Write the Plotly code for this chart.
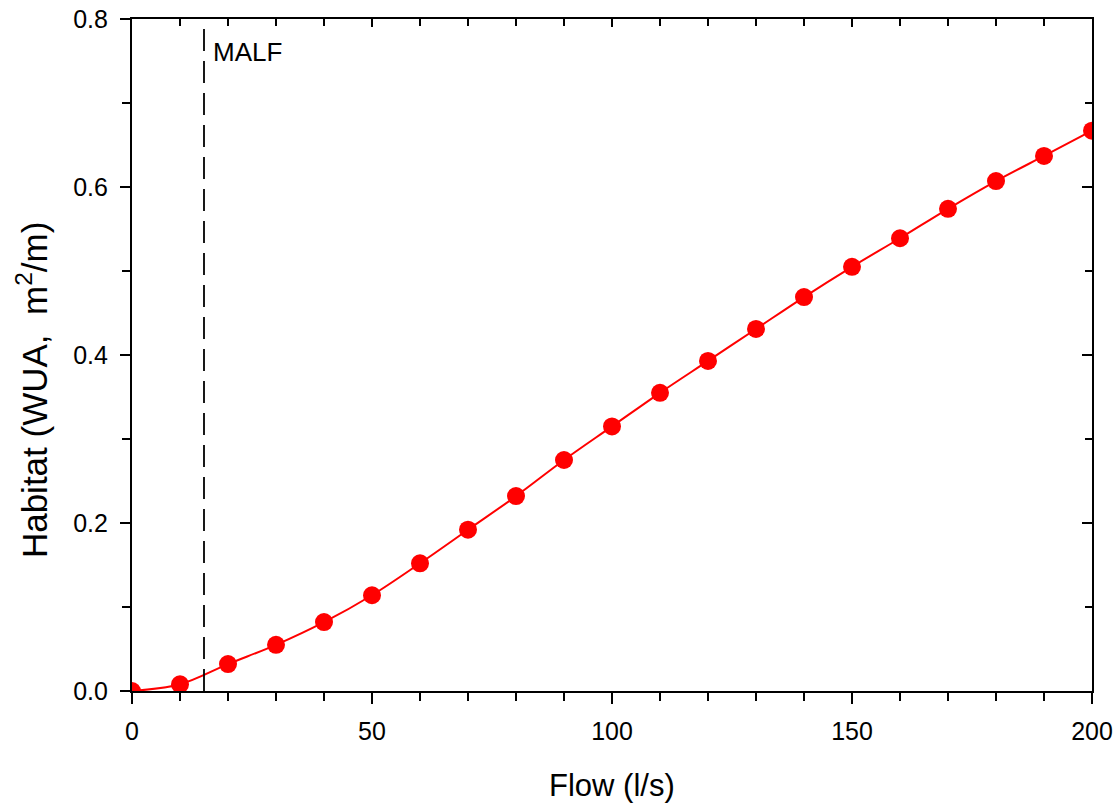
import plotly.graph_objects as go

flow = [0, 10, 20, 30, 40, 50, 60, 70, 80, 90, 100, 110, 120, 130, 140, 150, 160, 170, 180, 190, 200]
habitat = [0.000, 0.008, 0.032, 0.055, 0.082, 0.114, 0.152, 0.192, 0.232, 0.275, 0.315,
           0.355, 0.393, 0.431, 0.469, 0.505, 0.539, 0.574, 0.607, 0.637, 0.667]
malf = 15
malf_label = "MALF"
x_title = "Flow (l/s)"
y_title = "Habitat (WUA,&nbsp; m<sup>2</sup>/m)"
x_ticks = [0, 50, 100, 150, 200]
y_ticks = [0, 0.2, 0.4, 0.6, 0.8]
y_ticktext = ["0.0", "0.2", "0.4", "0.6", "0.8"]

font = "Arial, Liberation Sans, sans-serif"
fig = go.Figure()
fig.add_trace(go.Scatter(x=flow, y=habitat, mode="lines", line=dict(color="#ff0000", width=2, shape="spline"),
                         showlegend=False, hoverinfo="skip"))
fig.add_trace(go.Scatter(x=flow, y=habitat, mode="markers", marker=dict(color="#ff0000", size=18),
                         showlegend=False))
fig.add_trace(go.Scatter(x=[malf, malf], y=[0, 0.8], mode="lines",
                         line=dict(color="black", width=1.8, dash="22px,10px"), showlegend=False, hoverinfo="skip"))
fig.add_annotation(x=malf, y=0.8, xref="x", yref="y", text=malf_label, showarrow=False,
                   xanchor="left", yanchor="top", xshift=7, yshift=-16, font=dict(family=font, size=26, color="black"))

fig.add_annotation(x=0.5, y=-0.141, xref="paper", yref="paper", text=x_title, showarrow=False,
                   xanchor="center", yanchor="middle", font=dict(family=font, size=31, color="black"))
fig.add_annotation(x=-0.104, y=0.448, xref="paper", yref="paper", text=y_title, showarrow=False, textangle=-90,
                   xanchor="center", yanchor="middle", font=dict(family=font, size=35, color="black"))

fig.add_trace(go.Scatter(x=[0, 200], y=[0, 0.8], xaxis="x2", yaxis="y2", mode="markers",
                         marker=dict(opacity=0), showlegend=False, hoverinfo="skip"))

fig.update_layout(
    width=1119, height=805,
    margin=dict(l=132, r=27, t=19, b=114, autoexpand=False),
    plot_bgcolor="white", paper_bgcolor="white",
    font=dict(family=font, color="black"),
    xaxis=dict(range=[0, 200], tickvals=x_ticks, ticks="outside", ticklen=11, tickwidth=1.8, automargin=False,
               tickcolor="black", showline=True, linecolor="black", linewidth=2.2, showgrid=False, zeroline=False,
               tickfont=dict(size=25), ticklabelstandoff=6,
               minor=dict(dtick=10, ticks="outside", ticklen=8, tickwidth=1.8, tickcolor="black", showgrid=False)),
    yaxis=dict(range=[0, 0.8], tickvals=y_ticks, ticktext=y_ticktext, automargin=False,
               ticks="outside", ticklen=10, tickwidth=1.8, tickcolor="black", showline=True, linecolor="black",
               linewidth=2.2, showgrid=False, zeroline=False, tickfont=dict(size=25), ticklabelstandoff=7,
               minor=dict(dtick=0.1, ticks="outside", ticklen=8, tickwidth=1.8, tickcolor="black", showgrid=False)),
    xaxis2=dict(range=[0, 200], overlaying="x", side="top", anchor="y", tickvals=x_ticks, automargin=False,
                ticks="inside", ticklen=8, tickwidth=1.8, tickcolor="black", showticklabels=False,
                showline=True, linecolor="black", linewidth=2.2, showgrid=False, zeroline=False,
                minor=dict(dtick=10, ticks="inside", ticklen=7, tickwidth=1.8, tickcolor="black", showgrid=False)),
    yaxis2=dict(range=[0, 0.8], overlaying="y", side="right", anchor="x", tickvals=y_ticks, automargin=False,
                ticks="inside", ticklen=10, tickwidth=1.8, tickcolor="black", showticklabels=False,
                showline=True, linecolor="black", linewidth=2.2, showgrid=False, zeroline=False,
                minor=dict(dtick=0.1, ticks="inside", ticklen=7, tickwidth=1.8, tickcolor="black", showgrid=False)),
)

fig.write_html("out.html")
